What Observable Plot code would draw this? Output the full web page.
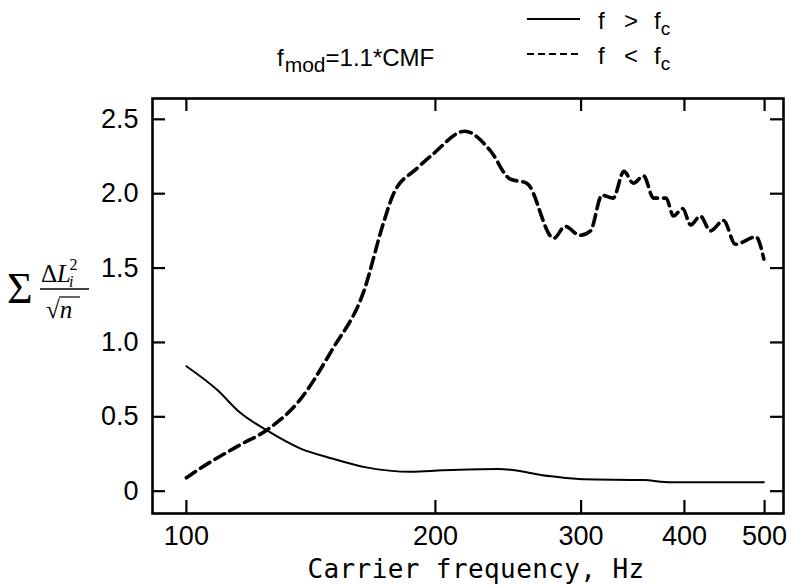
<!DOCTYPE html>
<html><head><meta charset="utf-8">
<script src="https://cdn.jsdelivr.net/npm/d3@7"></script>
<script src="https://cdn.jsdelivr.net/npm/@observablehq/plot@0.6"></script>
<style>body{margin:0;background:#fff} svg{display:block}</style>
</head><body><div id="chart"></div>
<script>
// Tick values
const xTicks = [100, 200, 300, 400, 500];
const yTicks = [0, 0.5, 1, 1.5, 2, 2.5];

// Series f < fc (dashed)
const freqBelow = [100,104,116,125,137,150,164,173,178,190,199,217,233,246,258,278,287,299,308,318,328,338,347,357,367,380,388,398,407,418,430,446,461,488,499];
const valBelow  = [0.09,0.154,0.31,0.41,0.61,0.95,1.35,1.80,2.0,2.17,2.27,2.42,2.29,2.10,2.07,1.70,1.78,1.72,1.75,1.99,1.97,2.15,2.07,2.12,1.97,1.97,1.85,1.90,1.79,1.85,1.75,1.82,1.66,1.71,1.56];

// Series f > fc (solid)
const freqAbove = [100,109,116,125,137,150,165,187,204,238,276,302,357,385,499];
const valAbove  = [0.84,0.68,0.53,0.41,0.29,0.22,0.16,0.13,0.14,0.15,0.10,0.08,0.075,0.06,0.06];

const below = freqBelow.map((f, i) => ({f, v: valBelow[i]}));
const above = freqAbove.map((f, i) => ({f, v: valAbove[i]}));

const W = 795, H = 586, mL = 152, mR = 12, mT = 98, mB = 73;
const fw = W - mL - mR, fh = H - mT - mB;
const tk = 13;

const plot = Plot.plot({
  width: W, height: H,
  marginLeft: mL, marginRight: mR, marginTop: mT, marginBottom: mB,
  style: {fontFamily: "'Liberation Sans', Arial, sans-serif", background: "#fff", color: "#000"},
  x: {type: "log", domain: [91, 527]},
  y: {domain: [-0.15, 2.64]},
  marks: [
    Plot.frame({stroke: "#000", strokeWidth: 2.6}),
    Plot.ruleX(xTicks, {x: d => d, insetTop: fh - tk, stroke: "#000", strokeWidth: 2.2}),
    Plot.ruleX(xTicks, {x: d => d, insetBottom: fh - tk, stroke: "#000", strokeWidth: 2.2}),
    Plot.ruleY(yTicks, {y: d => d, insetRight: fw - tk, stroke: "#000", strokeWidth: 2.2}),
    Plot.ruleY(yTicks, {y: d => d, insetLeft: fw - tk, stroke: "#000", strokeWidth: 2.2}),
    Plot.axisX({ticks: xTicks, tickSize: 0, tickPadding: 12, fontSize: 27, label: null, tickFormat: d => String(d)}),
    Plot.axisY({ticks: yTicks, tickSize: 0, tickPadding: 14, fontSize: 27, label: null, tickFormat: d => d === 0 ? "0" : d.toFixed(1)}),
    Plot.line(below, {x: "f", y: "v", stroke: "#000", strokeWidth: 3.6, strokeDasharray: "11,6", curve: "monotone-x"}),
    Plot.line(above, {x: "f", y: "v", stroke: "#000", strokeWidth: 2, curve: "monotone-x"})
  ]
});
document.getElementById("chart").appendChild(plot);

const svg = d3.select(plot);
const sans = "'Liberation Sans', Arial, sans-serif";
const mono = "'DejaVu Sans Mono', 'Liberation Mono', monospace";
const serif = "'Liberation Serif', 'DejaVu Serif', serif";
const T = (x, y, fam, size) => svg.append("text").attr("x", x).attr("y", y)
  .attr("text-anchor", "start").attr("font-family", fam).attr("font-size", size).attr("fill", "#000");

// x-axis title
T(476, 578, mono, 26).attr("text-anchor", "middle").attr("letter-spacing", 0.4)
  .text("Carrier frequency, Hz");

// header annotation
const h = T(277, 66, sans, 24);
h.append("tspan").text("f");
h.append("tspan").attr("font-size", 21).attr("dy", 6).attr("dx", 1).text("mod");
h.append("tspan").attr("dy", -6).text("=1.1*CMF");

// legend
svg.append("line").attr("x1", 527).attr("x2", 580).attr("y1", 19).attr("y2", 19).attr("stroke", "#000").attr("stroke-width", 2.2);
const l1 = T(598, 29, sans, 24);
l1.append("tspan").attr("x", 598).text("f");
l1.append("tspan").attr("x", 624).text(">");
l1.append("tspan").attr("x", 654).text("f");
l1.append("tspan").attr("font-size", 19).attr("dy", 6).text("c");
svg.append("line").attr("x1", 527).attr("x2", 581).attr("y1", 54).attr("y2", 54).attr("stroke", "#000").attr("stroke-width", 2.2).attr("stroke-dasharray", "7,4");
const l2 = T(598, 64, sans, 24);
l2.append("tspan").attr("x", 598).text("f");
l2.append("tspan").attr("x", 624).text("<");
l2.append("tspan").attr("x", 654).text("f");
l2.append("tspan").attr("font-size", 19).attr("dy", 6).text("c");

// y-axis label: Σ ΔL_i² / √n
T(7, 303, serif, 44).text("\u03A3");
const num = T(41, 282, serif, 25);
num.append("tspan").text("\u0394");
num.append("tspan").attr("font-style", "italic").text("L");
num.append("tspan").attr("font-style", "italic").attr("font-size", 16).attr("dy", 5).attr("dx", -2).text("i");
num.append("tspan").attr("font-size", 16).attr("dy", -17).attr("dx", -4).text("2");
svg.append("line").attr("x1", 40).attr("x2", 89).attr("y1", 289).attr("y2", 289).attr("stroke", "#000").attr("stroke-width", 1.3);
const den = T(46, 318, serif, 25);
den.append("tspan").text("\u221A");
den.append("tspan").attr("font-style", "italic").text("n");
svg.append("line").attr("x1", 59).attr("x2", 80).attr("y1", 297).attr("y2", 297).attr("stroke", "#000").attr("stroke-width", 1.2);
</script></body></html>
